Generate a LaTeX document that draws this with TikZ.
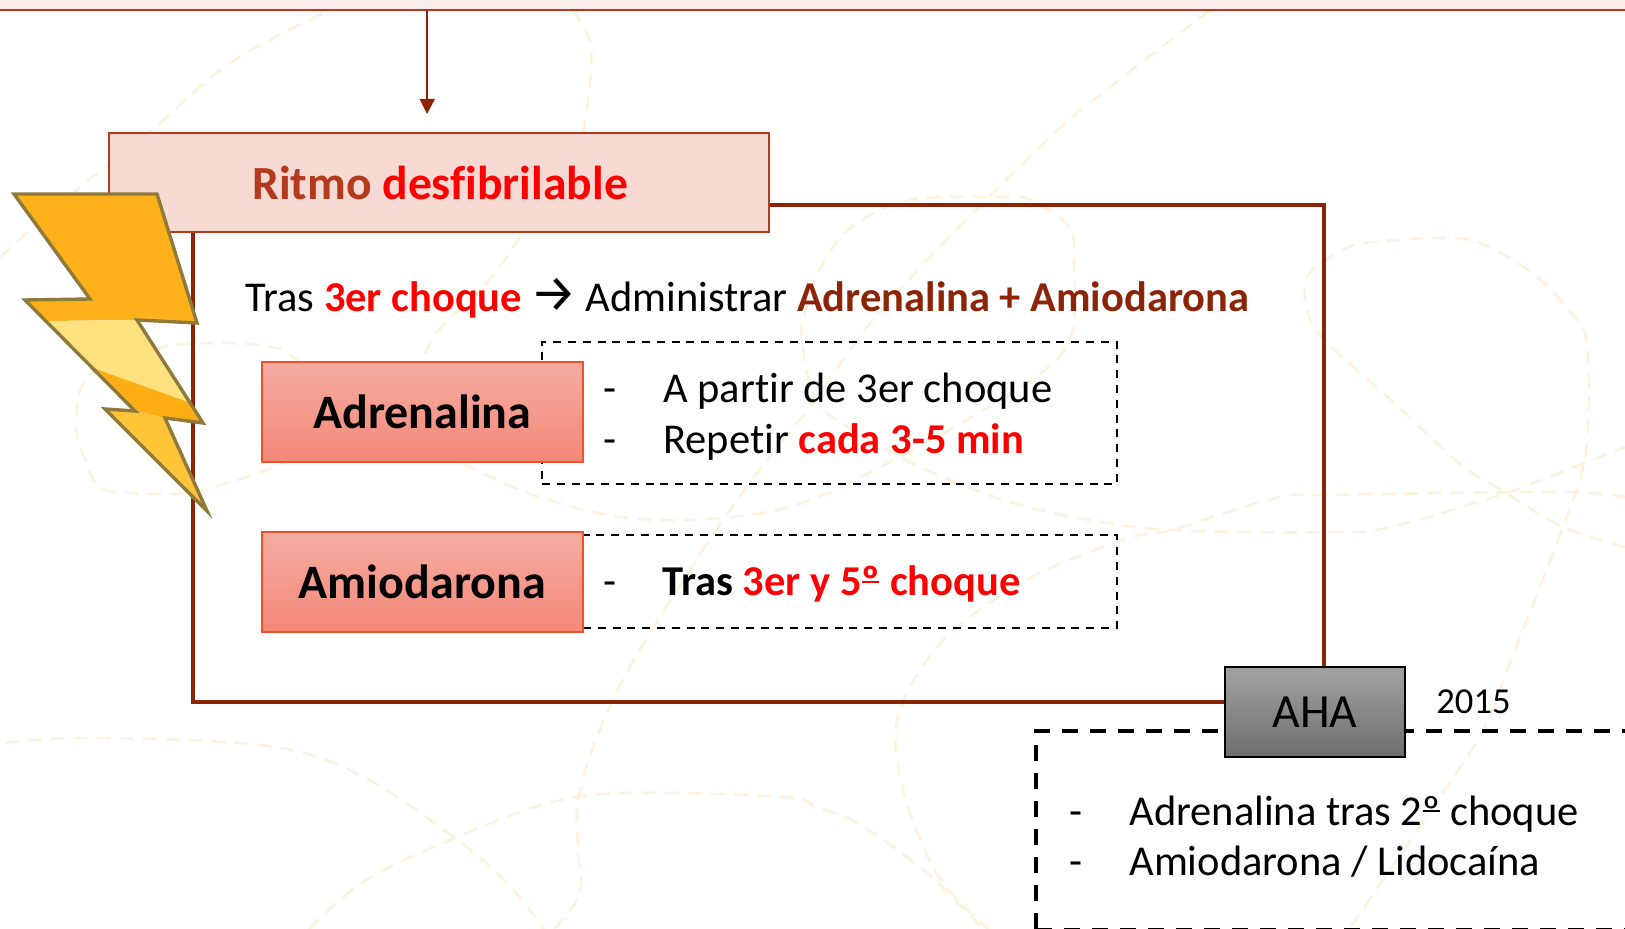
\documentclass[tikz,border=0pt]{standalone}
\usepackage{fontspec}
\setmainfont[Ligatures=NoCommon]{Carlito}
\newfontfamily\symfont{Fira Sans}
\definecolor{framered}{HTML}{8C2408}
\definecolor{headred}{HTML}{B5391C}
\definecolor{headfill}{HTML}{F8DAD4}
\definecolor{curve}{HTML}{FFF2DC}
\definecolor{boltline}{HTML}{8F7A3A}
\definecolor{topstrip}{HTML}{FAEEEA}
\newcommand{\fs}[1]{\fontsize{#1}{#1}\selectfont}
\newcommand{\ordo}{\rlap{\rule[0.3em]{0.4em}{0.05em}}º}
\tikzset{
  bgcurve/.style={draw=curve,line width=1.3pt,dash pattern=on 7pt off 4.5pt},
  drug/.style={draw={rgb,255:red,240;green,80;blue,42},line width=0.8pt,top color={rgb,255:red,245;green,172;blue,162},bottom color={rgb,255:red,244;green,136;blue,120},minimum width=160.5pt,minimum height=50pt,inner sep=0pt,font=\fs{24}\bfseries},
  txt/.style={inner sep=0pt,anchor=base west,font=\fs{21.25}},
  dashbox/.style={draw=black,line width=1.1pt,dash pattern=on 4pt off 3.4pt},
  dashwide/.style={draw=black,line width=1.9pt,dash pattern=on 8pt off 6pt},
  bolt/.style={draw=boltline,line width=1.7pt,line join=miter,miter limit=10}
}
\begin{document}
\begin{tikzpicture}[x=0.5pt,y=-0.5pt]
\useasboundingbox (0,0) rectangle (1625,929);
\fill[white] (0,0) rectangle (1625,929);
% background pattern
\draw[bgcurve] plot[smooth,tension=0.6] coordinates {(0,257) (73,193) (152,130) (230,63) (330,10)};
\draw[bgcurve] plot[smooth,tension=0.6] coordinates {(572,10) (590,43) (588,100) (570,180) (523,233) (492,277) (439,330) (418,362) (360,420) (273,467) (213,487) (183,494) (133,493) (100,487) (85,460) (76,423) (90,375) (160,348) (213,343) (267,346) (293,357) (340,400) (460,462) (539,497) (628,518) (722,518) (805,502) (900,457) (978,413) (1045,370) (1072,333) (1074,267) (1069,227) (1030,200) (1004,197) (910,200) (852,227) (821,267) (803,320) (802,337) (807,373) (817,402) (837,420) (900,457) (967,487) (1040,510) (1145,528) (1250,532) (1328,532) (1386,528) (1506,493) (1584,463) (1625,447)};
\draw[bgcurve] plot[smooth,tension=0.6] coordinates {(1210,10) (1119,80) (1061,127) (993,193) (930,257) (873,320) (843,360) (810,407) (767,460) (723,520) (669,603) (614,697) (580,790) (578,850) (580,893) (554,929)};
\draw[bgcurve] plot[smooth,tension=0.6] coordinates {(1625,547) (1563,527) (1506,493) (1459,463) (1391,400) (1338,353) (1310,320) (1307,277) (1338,253) (1365,243) (1443,238) (1485,245) (1537,277) (1579,323) (1587,350) (1589,400) (1584,463) (1563,527) (1511,660) (1485,727) (1433,807) (1349,929)};
\draw[bgcurve] plot[smooth,tension=0.6] coordinates {(1625,497) (1558,492) (1328,495) (1276,498) (1171,530) (1129,538) (1040,573) (962,623) (920,670) (896,727) (904,793) (925,850) (946,887) (988,929)};
\draw[bgcurve] plot[smooth,tension=0.6] coordinates {(309,929) (366,880) (455,838) (549,803) (628,793) (785,797) (816,807) (857,823) (920,867) (962,907) (983,929)};
\draw[bgcurve] plot[smooth,tension=0.6] coordinates {(5,743) (84,738) (261,745) (356,773) (455,838) (507,883) (544,929)};
% top band
\fill[topstrip] (0,0) rectangle (1625,9);
\draw[headred,line width=1.4pt] (0,10) -- (1625,10);
% frame
\draw[framered,line width=2.2pt] (193,205) rectangle (1324,702);
% dashed boxes
\node[dashbox,minimum width=287.5pt,minimum height=71pt,inner sep=0pt] (adrbox) at (829.5,413) {};
\node[dashbox,minimum width=267pt,minimum height=46.5pt,inner sep=0pt] (amibox) at (850,581.5) {};
% wide dashed box
\draw[dashwide] (1036,929) -- (1036,731) -- (1640,731);
\draw[black,line width=1pt,dash pattern=on 8pt off 6pt] (1036,928.5) -- (1625,928.5);
% header
\coordinate (topline) at (427,10);
\node[draw=headred,line width=1.25pt,fill=headfill,minimum width=330pt,minimum height=49.5pt,inner sep=0pt] (head) at (439,182.5) {};
\coordinate (arrowend) at (427,114);
\draw[framered,line width=1.1pt] (topline) -- (427,100);
\fill[framered] (419.5,99) -- (435,99) -- (arrowend) -- cycle;
\node[txt,font=\fs{23.8}\bfseries] (headtxt) at (252,200) {\textcolor{headred}{Ritmo} \textcolor{red}{desfibrilable}};
% bolt
\fill[fill={rgb,255:red,255;green,177;blue,27}] (14,194) -- (157,194) -- (197,323) -- (137,320) -- (46,321) -- (25,300) -- (90,299) -- cycle;
\fill[fill={rgb,255:red,255;green,225;blue,127}] (46,321) -- (137,320) -- (188,402) -- (93,368) -- cycle;
\fill[fill={rgb,255:red,255;green,173;blue,20}] (93,368) -- (188,402) -- (203,423) -- (165,418) -- (135,411) -- (118,394) -- cycle;
\fill[fill={rgb,255:red,255;green,195;blue,55}] (105,409) -- (135,411) -- (165,418) -- (207,511) -- cycle;
\draw[bolt] (14,194) -- (157,194) -- (197,323) -- (137,320) -- (203,423) -- (165,418) -- (207,511) -- (105,409) -- (135,411) -- (25,300) -- (90,299) -- cycle;
% drugs
\node[drug] (adr) at (422.25,412) {Adrenalina};
\node[drug] (ami) at (422.25,582) {Amiodarona};
% text
\node[txt] (t1) at (245,312) {Tras \textcolor{red}{\bfseries 3er choque}};
\node[txt,font=\fs{26}\symfont] (t1a) at (530,312) {→};
\node[txt] (t2) at (585,312) {Administrar \textcolor{framered}{\bfseries Adrenalina + Amiodarona}};
\node[txt] (d1) at (603,403) {-};
\node[txt] (d1t) at (663,403) {A partir de 3er choque};
\node[txt] (d2) at (603,454) {-};
\node[txt] (d2t) at (663,454) {Repetir \textcolor{red}{\bfseries cada 3-5 min}};
\node[txt] (d3) at (603,596) {-};
\node[txt] (d3t) at (662,596) {\bfseries Tras \textcolor{red}{3er y 5\ordo{} choque}};
% AHA
\node[draw=black,line width=0.8pt,top color={rgb,255:red,162;green,162;blue,162},bottom color={rgb,255:red,110;green,110;blue,110},minimum width=90pt,minimum height=45pt,inner sep=0pt,font=\fs{23.8}] (aha) at (1315,712) {AHA};
\node[txt,font=\fs{18.3}] (yr) at (1436,713) {2015};
\node[txt] (a0) at (1069,825) {-};
\node[txt] (a1) at (1129,825) {Adrenalina tras 2\ordo{} choque};
\node[txt] (b0) at (1069,875) {-};
\node[txt] (b1) at (1129,875) {Amiodarona / Lidocaína};
\end{tikzpicture}
\end{document}
